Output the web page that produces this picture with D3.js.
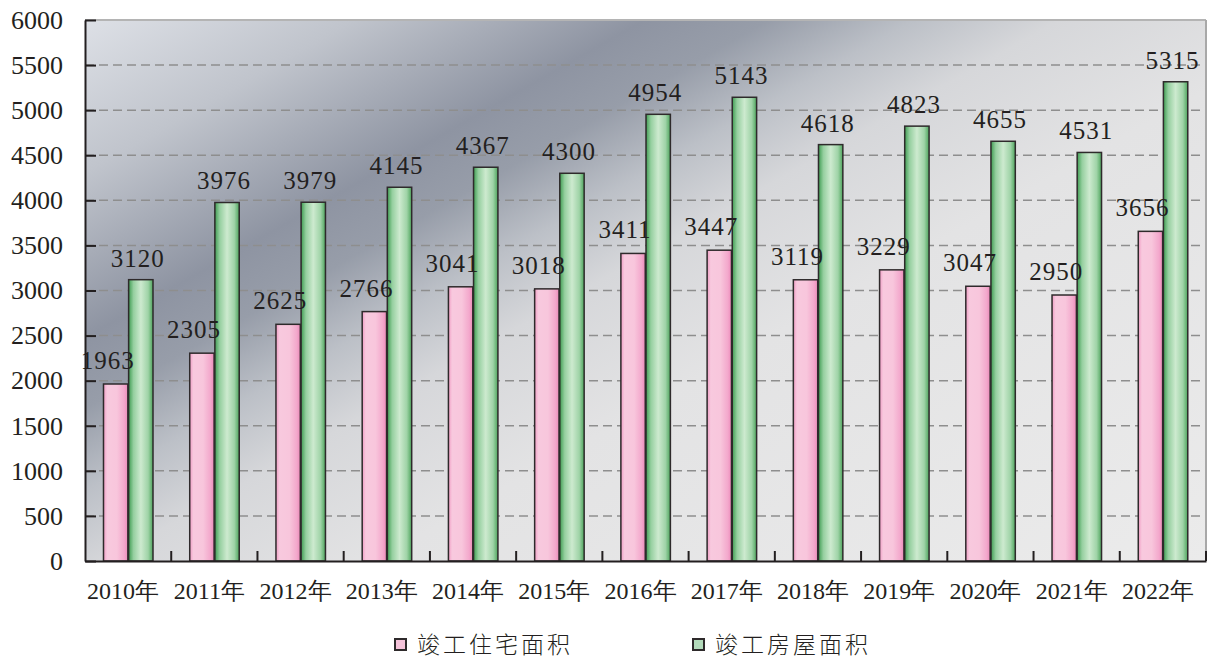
<!DOCTYPE html>
<html>
<head>
<meta charset="utf-8">
<script src="https://cdn.jsdelivr.net/npm/d3@7"></script>
<style>
  html, body { margin: 0; padding: 0; background: #ffffff; }
  svg { display: block; }
</style>
</head>
<body>
<svg id="chart" width="1209" height="659"></svg>
<script>
const categories = ['2010年','2011年','2012年','2013年','2014年','2015年','2016年','2017年','2018年','2019年','2020年','2021年','2022年'];
const residentialArea = [1963, 2305, 2625, 2766, 3041, 3018, 3411, 3447, 3119, 3229, 3047, 2950, 3656];
const totalArea = [3120, 3976, 3979, 4145, 4367, 4300, 4954, 5143, 4618, 4823, 4655, 4531, 5315];
const seriesNames = ['竣工住宅面积', '竣工房屋面积'];
const yTicks = [0, 500, 1000, 1500, 2000, 2500, 3000, 3500, 4000, 4500, 5000, 5500, 6000];

(function () {
const series = [
  { name: seriesNames[0], values: residentialArea, grad: 'gPink', legendFill: '#f5c3da', labelDx: -8, labelDy: -15 },
  { name: seriesNames[1], values: totalArea, grad: 'gGreen', legendFill: '#b3dbbb', labelDx: -3, labelDy: -13 }
];

const svg = d3.select('#chart');
const pL = 85, pR = 1206, pT = 20, pB = 561;
const txtColor = '#231f20';
const numFont = '"Liberation Serif", "Times New Roman", serif';

const x = d3.scaleBand().domain(categories).range([pL, pR]).paddingInner(0).paddingOuter(0);
const x1 = d3.scaleBand().domain([0, 1]).range([18.5, 68]).paddingInner(0.03).paddingOuter(0);
const y = d3.scaleLinear().domain([0, 6000]).range([pB, pT]);

const defs = svg.append('defs');
const bg = defs.append('linearGradient').attr('id', 'gBg')
  .attr('gradientUnits', 'userSpaceOnUse')
  .attr('x1', pL).attr('y1', pT).attr('x2', 590).attr('y2', 910);
[[0, '#dde0e6'], [0.13, '#c0c4cc'], [0.27, '#8e94a2'], [0.33, '#979da9'], [0.4, '#bcc0c7'], [0.47, '#d6d7da'], [0.6, '#e3e3e4'], [1, '#ebebeb']]
  .forEach(([o, c]) => bg.append('stop').attr('offset', o).attr('stop-color', c));

const gp = defs.append('linearGradient').attr('id', 'gPink').attr('x1', 0).attr('x2', 1).attr('y1', 0).attr('y2', 0);
[[0, '#f09cc4'], [0.15, '#f8c9de'], [0.55, '#f8c6dc'], [0.85, '#f3a8cc'], [1, '#ec8ab9']]
  .forEach(([o, c]) => gp.append('stop').attr('offset', o).attr('stop-color', c));
const gg = defs.append('linearGradient').attr('id', 'gGreen').attr('x1', 0).attr('x2', 1).attr('y1', 0).attr('y2', 0);
[[0, '#3f9c52'], [0.2, '#95cf9f'], [0.5, '#cdeacf'], [0.8, '#9fd3a7'], [1, '#4da45c']]
  .forEach(([o, c]) => gg.append('stop').attr('offset', o).attr('stop-color', c));

svg.append('rect').attr('x', pL).attr('y', pT).attr('width', pR - pL).attr('height', pB - pT)
  .attr('fill', 'url(#gBg)');

svg.append('g').selectAll('line').data(yTicks.filter(t => t > 0 && t < 6000)).join('line')
  .attr('x1', pL).attr('x2', pR).attr('y1', d => y(d)).attr('y2', d => y(d))
  .attr('stroke', '#8e8e8e').attr('stroke-width', 1.5).attr('stroke-dasharray', '9,5');

svg.append('line').attr('x1', pL).attr('x2', pR).attr('y1', pT).attr('y2', pT)
  .attr('stroke', '#b4b4b4').attr('stroke-width', 2);
svg.append('line').attr('x1', pR).attr('x2', pR).attr('y1', pT).attr('y2', pB)
  .attr('stroke', '#a8a8a8').attr('stroke-width', 2);

series.forEach((s, si) => {
  svg.append('g').selectAll('rect').data(s.values).join('rect')
    .attr('x', (d, i) => x(categories[i]) + x1(si))
    .attr('y', d => y(d))
    .attr('width', x1.bandwidth())
    .attr('height', d => y(0) - y(d))
    .attr('fill', `url(#${s.grad})`)
    .attr('stroke', '#2e2a2b').attr('stroke-width', 1.5);
});

series.forEach((s, si) => {
  svg.append('g').selectAll('text').data(s.values).join('text')
    .attr('x', (d, i) => x(categories[i]) + x1(si) + x1.bandwidth() / 2 + s.labelDx)
    .attr('y', d => y(d) + s.labelDy)
    .attr('text-anchor', 'middle')
    .attr('font-family', numFont).attr('font-size', 25).attr('letter-spacing', 1)
    .attr('fill', txtColor)
    .text(d => d);
});

const yAxis = d3.axisLeft(y).tickValues(yTicks).tickFormat(d3.format('d'))
  .tickSizeInner(-11).tickSizeOuter(0).tickPadding(22);
const gy = svg.append('g').attr('transform', `translate(${pL},0)`).call(yAxis);
gy.select('.domain').attr('stroke', '#231f20').attr('stroke-width', 2);
gy.selectAll('.tick line').attr('stroke', '#231f20').attr('stroke-width', 2);
gy.selectAll('.tick text').attr('font-family', numFont).attr('font-size', 26).attr('fill', txtColor);

const xAxis = d3.axisBottom(x).tickSize(0).tickPadding(21);
const gx = svg.append('g').attr('transform', `translate(0,${pB})`).call(xAxis);
gx.select('.domain').attr('stroke', '#231f20').attr('stroke-width', 2);
gx.selectAll('.tick text').attr('font-family', numFont).attr('font-size', 24).attr('fill', txtColor)
  .attr('dx', -5);
svg.append('g').selectAll('line').data(categories).join('line')
  .attr('x1', d => x(d) + x.bandwidth()).attr('x2', d => x(d) + x.bandwidth())
  .attr('y1', pB).attr('y2', pB - 10)
  .attr('stroke', '#231f20').attr('stroke-width', 2);

const legendX = [395, 693];
const lg = svg.append('g');
series.forEach((s, si) => {
  lg.append('rect').attr('x', legendX[si]).attr('y', 639).attr('width', 11).attr('height', 11)
    .attr('fill', s.legendFill).attr('stroke', '#2e2a2b').attr('stroke-width', 2);
  lg.append('text').attr('x', legendX[si] + 22).attr('y', 653)
    .attr('font-family', '"Noto Sans CJK SC", sans-serif').attr('font-weight', 300)
    .attr('font-size', 23).attr('letter-spacing', 3).attr('fill', txtColor)
    .text(s.name);
});
})();
</script>
</body>
</html>
